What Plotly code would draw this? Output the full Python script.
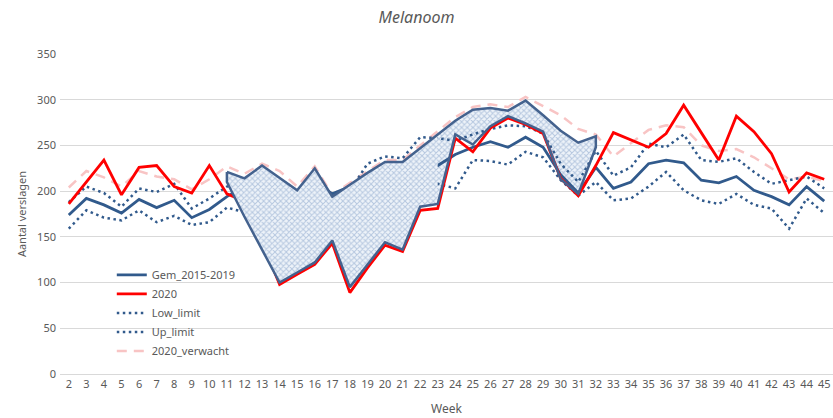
import plotly.graph_objects as go

weeks = list(range(2, 46))
week_labels = [str(w) for w in weeks]

gem_2015_2019 = [174, 192, 185, 176, 191, 182, 190, 171, 180, 194, 205, 213, 208, 200, 210, 197,
                 205, 212, 222, 220, 238, 228, 240, 248, 254, 248, 259, 248, 218, 198, 226, 203,
                 210, 230, 234, 231, 212, 209, 216, 201, 194, 185, 205, 189]
y2020 = [186, 210, 234, 196, 226, 228, 205, 198, 228, 197, 189, 145, 98, 109, 120, 143,
         89, 116, 141, 134, 179, 181, 258, 243, 269, 280, 273, 263, 214, 195, 228, 264,
         256, 248, 263, 294, 264, 234, 282, 265, 241, 199, 220, 213]
low_limit = [159, 179, 171, 168, 179, 166, 173, 163, 166, 182, 177, 190, 186, 180, 188, 176,
             184, 192, 202, 200, 215, 208, 203, 234, 233, 229, 243, 237, 212, 195, 210, 190,
             192, 205, 221, 201, 190, 186, 197, 185, 181, 159, 192, 176]
up_limit = [188, 205, 198, 183, 203, 199, 208, 181, 192, 205, 210, 220, 212, 198, 218, 188,
            200, 230, 238, 236, 259, 258, 255, 262, 268, 272, 271, 263, 230, 210, 244, 217,
            226, 252, 248, 262, 234, 232, 236, 221, 208, 212, 216, 203]
verwacht_2020 = [204, 222, 215, 205, 222, 216, 213, 202, 213, 227, 219, 230, 222, 205, 227, 196,
                 209, 222, 234, 234, 250, 265, 281, 292, 295, 292, 303, 293, 283, 268, 262, 238,
                 252, 267, 272, 270, 250, 244, 246, 237, 225, 213, 216, 211]

# hatched band between expected and observed (weeks 11-32)
area_weeks = list(range(11, 33))
area_upper = [221, 214, 228, 214, 201, 225, 194, 207, 220, 232, 232, 247, 262, 277, 289, 291,
              288, 299, 283, 266, 253, 260]
area_lower = [210, 172, 136, 100, 111, 122, 146, 95, 120, 144, 136, 183, 186, 262, 251, 271,
              282, 274, 265, 213, 197, 248]
left_end = area_weeks.index(23)

GREY = "#595959"
BLUE = "#315A8C"
OUTLINE = "#44628E"
FONT = "Noto Sans"

pattern = dict(shape="x", fgcolor="#7E9BC6", bgcolor="#EEF3F9", size=4, solidity=0.45)


def poly(xs, up, lo):
    return xs + xs[::-1], up + lo[::-1]


fig = go.Figure()

px_, py_ = poly(area_weeks, area_upper, area_lower)
fig.add_trace(go.Scatter(x=px_, y=py_, fill="toself", fillpattern=pattern, fillcolor="#EEF3F9",
                         mode="none", showlegend=False, hoverinfo="skip"))

fig.add_trace(go.Scatter(x=weeks, y=verwacht_2020, name="2020_verwacht", mode="lines",
                         line=dict(color="#F8C4C4", width=2.5, dash="10px,7px"), legendrank=5))
fig.add_trace(go.Scatter(x=weeks, y=up_limit, name="Up_limit", mode="lines",
                         line=dict(color=BLUE, width=2.5, dash="2.5px,3.5px"), legendrank=4))
fig.add_trace(go.Scatter(x=weeks, y=low_limit, name="Low_limit", mode="lines",
                         line=dict(color=BLUE, width=2.5, dash="2.5px,3.5px"), legendrank=3))
fig.add_trace(go.Scatter(x=weeks, y=gem_2015_2019, name="Gem_2015-2019", mode="lines",
                         line=dict(color=BLUE, width=2.8), legendrank=1))
fig.add_trace(go.Scatter(x=weeks, y=y2020, name="2020", mode="lines",
                         line=dict(color="#FF0000", width=2.8), legendrank=2))

lx, ly = poly(area_weeks[:left_end + 1], area_upper[:left_end + 1], area_lower[:left_end + 1])
fig.add_trace(go.Scatter(x=lx, y=ly, fill="toself", fillpattern=pattern, fillcolor="#EEF3F9",
                         mode="none", showlegend=False, hoverinfo="skip"))

fig.add_trace(go.Scatter(x=px_ + px_[:1], y=py_ + py_[:1], mode="lines",
                         line=dict(color=OUTLINE, width=2.5), showlegend=False, hoverinfo="skip"))

fig.update_layout(
    width=833, height=418,
    margin=dict(l=60, r=0, t=54, b=44),
    paper_bgcolor="white", plot_bgcolor="white",
    font=dict(family=FONT, size=11, color=GREY),
    title=dict(text="<i>Melanoom</i>", x=0.5, xref="container", y=1 - 17 / 418, yanchor="middle",
               xanchor="center", font=dict(family=FONT, size=16, color=GREY)),
    showlegend=True,
    legend=dict(x=0.067, y=0.355, xanchor="left", yanchor="top", bgcolor="rgba(0,0,0,0)",
                font=dict(family=FONT, size=11, color=GREY), tracegroupgap=0),
    xaxis=dict(range=[1.5, 45.5], tickmode="array", tickvals=weeks, ticktext=week_labels,
               showgrid=False, showline=True, linecolor="#D9D9D9", linewidth=1, ticks="",
               zeroline=False, automargin=False, tickfont=dict(size=11, color=GREY),
               title=dict(text="Week", standoff=14, font=dict(size=12, color=GREY))),
    yaxis=dict(range=[0, 350], dtick=50, showgrid=True, gridcolor="#D9D9D9", gridwidth=1,
               zeroline=False, showline=False, ticks="", ticklabelstandoff=3, automargin=False,
               tickfont=dict(size=11, color=GREY),
               title=dict(text="Aantal verslagen", standoff=8, font=dict(size=11, color=GREY))),
)

# remove the browser's default 8px page margin so the 833x418 figure fills the window
fig.write_html("out.html", config={"displayModeBar": False},
               post_script="document.body.style.margin='0';document.body.style.overflow='hidden';")
